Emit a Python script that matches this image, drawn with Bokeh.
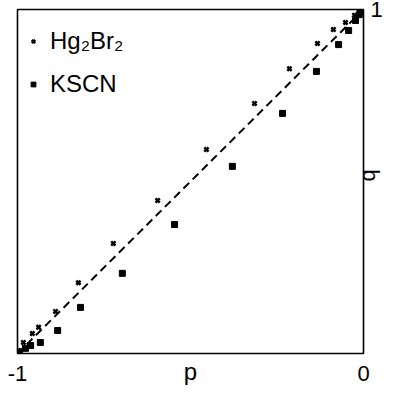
import math
from bokeh.plotting import figure
from bokeh.models import (Range1d, FixedTicker, Legend, LegendItem)
from bokeh.embed import file_html
from bokeh.resources import INLINE

# ---- data ----
hg_p = [-0.997, -0.983, -0.957, -0.939, -0.890, -0.824, -0.723, -0.595, -0.454,
        -0.315, -0.214, -0.133, -0.087, -0.052, -0.026, -0.012]
hg_q = [0.009, 0.032, 0.058, 0.076, 0.122, 0.206, 0.320, 0.445, 0.593,
        0.727, 0.828, 0.901, 0.942, 0.962, 0.983, 0.994]

kscn_p = [-0.994, -0.977, -0.962, -0.934, -0.884, -0.818, -0.697, -0.546, -0.379,
          -0.234, -0.136, -0.072, -0.043, -0.023, -0.012, -0.006]
kscn_q = [0.003, 0.015, 0.023, 0.032, 0.067, 0.134, 0.233, 0.375, 0.544,
          0.698, 0.820, 0.898, 0.939, 0.968, 0.985, 0.997]

diag_p = [-1.0, 0.0]
diag_q = [0.0, 1.0]

x_ticks = [-1, 0]
x_tick_labels = ["-1", "0"]
y_ticks = [1]
y_tick_labels = ["1"]

series_names = ["Hg\u2082Br\u2082", "KSCN"]
x_title = "p"
y_title = "q"

FONT = "Liberation Sans"

p = figure(width=395, height=393, output_backend="svg", toolbar_location=None,
           x_range=Range1d(-1, 0), y_range=Range1d(0, 1),
           x_axis_location="below", y_axis_location="right",
           min_border_left=17, min_border_top=9, min_border_right=32, min_border_bottom=40)
p.grid.visible = False
p.outline_line_color = "black"
p.outline_line_width = 1.6
p.background_fill_color = "white"
p.border_fill_color = "white"

for ax, ticks, labels in ((p.xaxis[0], x_ticks, x_tick_labels), (p.yaxis[0], y_ticks, y_tick_labels)):
    ax.ticker = FixedTicker(ticks=ticks)
    ax.major_label_overrides = {t: l for t, l in zip(ticks, labels)}
    ax.axis_line_color = None
    ax.major_tick_line_color = None
    ax.minor_tick_line_color = None
    ax.major_tick_out = 0
    ax.major_tick_in = 0
    ax.major_label_text_font = FONT
    ax.major_label_text_font_size = "22px"
    ax.major_label_text_color = "black"
    ax.axis_label_text_font = FONT
    ax.axis_label_text_font_size = "24px"
    ax.axis_label_text_font_style = "normal"
    ax.axis_label_text_color = "black"

xa = p.xaxis[0]
xa.major_label_standoff = 12
xa.axis_label = x_title
xa.axis_label_standoff = -26

ya = p.yaxis[0]
ya.major_label_standoff = 7
ya.axis_label = y_title
ya.axis_label_text_font_size = "22px"
ya.axis_label_orientation = math.pi / 2
ya.axis_label_standoff = -18

p.line(diag_p, diag_q, line_color="black", line_width=2, line_dash="8 5")
r_hg = p.scatter(hg_p, hg_q, marker="x", size=6, line_color="black", line_width=2.5)
r_k = p.scatter(kscn_p, kscn_q, marker="square", size=6, fill_color="black", line_color="black")

legend = Legend(items=[LegendItem(label=series_names[0], renderers=[r_hg]),
                       LegendItem(label=series_names[1], renderers=[r_k])],
                location="top_left", margin=10, padding=10,
                glyph_width=12, glyph_height=12, label_standoff=11,
                label_text_font=FONT, label_text_font_size="24px", label_text_color="black",
                label_height=30, spacing=13,
                title=" ", title_text_font_size="1px", title_standoff=6,
                border_line_color=None, background_fill_alpha=0)
p.add_layout(legend)

open("out.html", "w").write(file_html(p, INLINE))
